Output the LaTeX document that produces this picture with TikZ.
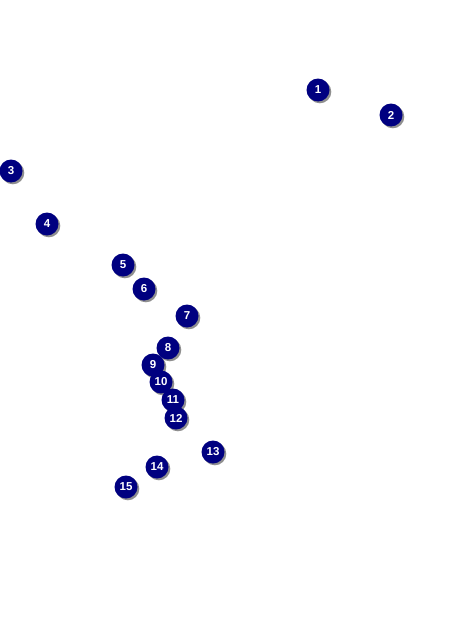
\documentclass[tikz,border=0pt]{standalone}
\usepackage{fontspec}
\setsansfont{Liberation Sans}
\usetikzlibrary{shadows}
\begin{document}
\begin{tikzpicture}[x=1pt,y=-1pt,font=\sffamily\bfseries,
  marker/.style={circle,fill=blue!50!black,text=white,minimum size=23pt,inner sep=0pt,
    font=\sffamily\bfseries\fontsize{11.5}{11.5}\selectfont,
    drop shadow={shadow xshift=1.8pt,shadow yshift=-1.8pt,fill=black!55,opacity=.8}}]
\useasboundingbox (0,0) rectangle (475,642);
\foreach \n/\x/\y in {1/318/90,2/391/115,3/11/171,4/47/224,5/123/265,6/144/289,7/187/316,8/168/348,9/153/365,10/161/382,11/173/400,12/176/418,13/213/452,14/157/467,15/126/487}{\node[marker] (m\n) at (\x,\y){\n};}
\end{tikzpicture}
\end{document}
